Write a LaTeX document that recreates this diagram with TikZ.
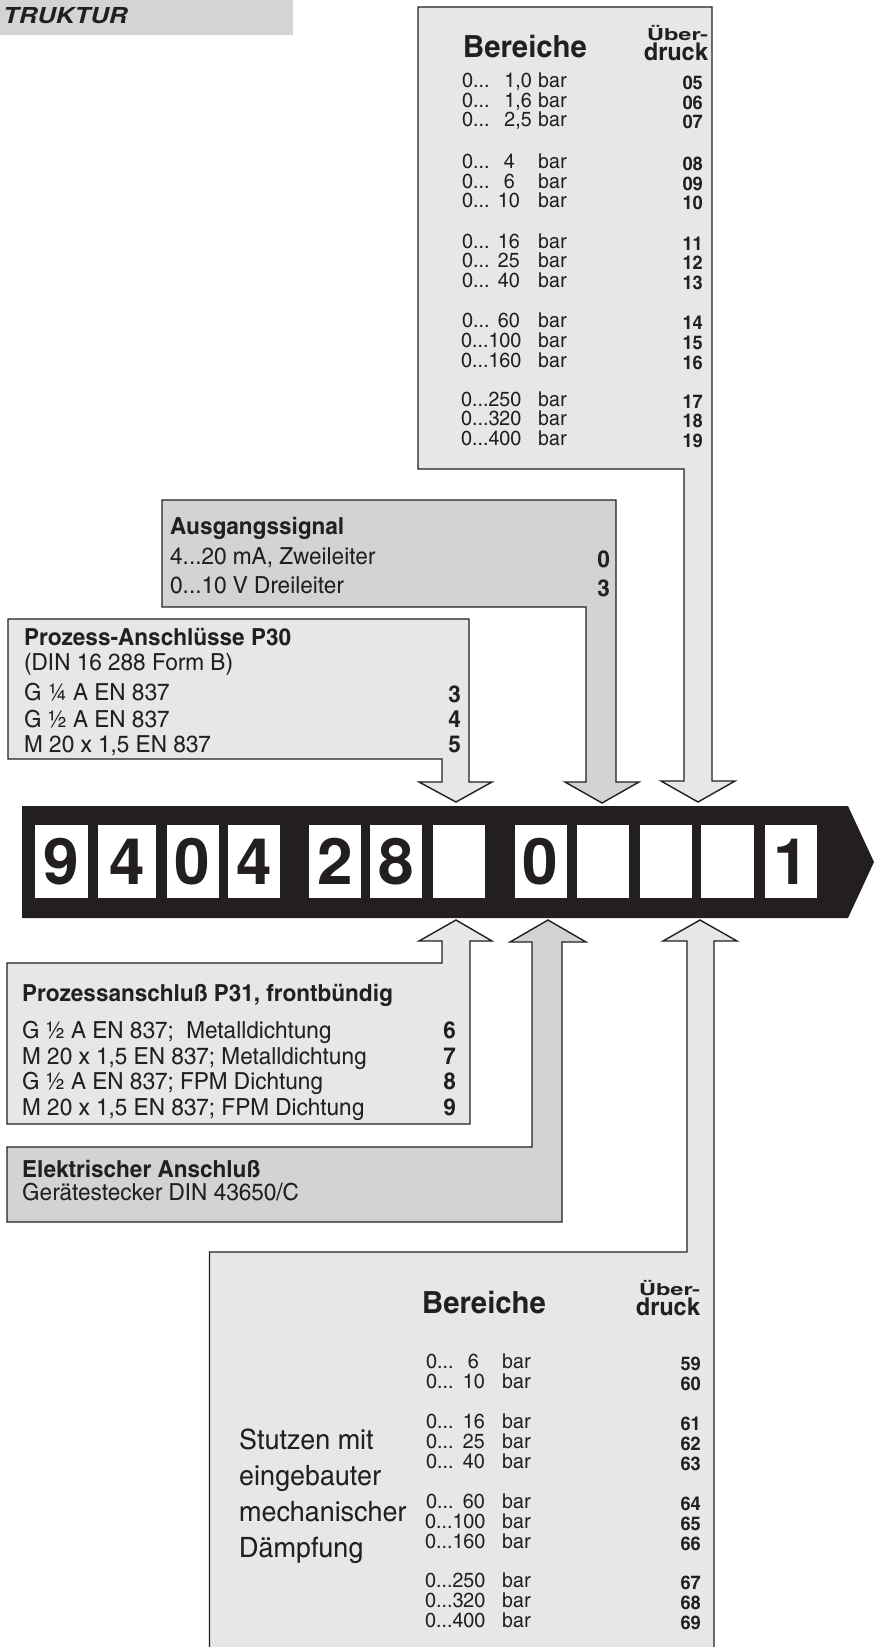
\documentclass[tikz,border=0pt]{standalone}
\usepackage{fontspec}
\setmainfont{TeX Gyre Heros}
\newfontfamily\cn{texgyreheroscn}[Extension=.otf, UprightFont=*-regular, BoldFont=*-bold, ItalicFont=*-italic, BoldItalicFont=*-bolditalic, FakeStretch=1.17]
\newfontfamily\hv{TeX Gyre Heros}
\newcommand\setfs[1]{\fontsize{#1}{#1}\selectfont}
\definecolor{ink}{HTML}{231F20}
\definecolor{lightg}{HTML}{E6E7E8}
\definecolor{darkg}{HTML}{D1D3D4}
\definecolor{barg}{HTML}{D3D4D6}
\tikzset{
  light/.style={fill=lightg, draw=ink, line width=1.4pt, line join=miter},
  dark/.style={fill=darkg, draw=ink, line width=1.4pt, line join=miter},
  txt/.style={inner sep=0pt, anchor=base west, text=ink, font=\cn\setfs{23.5}},
  txtb/.style={txt, font=\cn\bfseries\setfs{23.5}},
  code/.style={inner sep=0pt, anchor=base east, text=ink, font=\cn\bfseries\setfs{23.5}},
  rowt/.style={inner sep=0pt, anchor=base west, text=ink, font=\cn\setfs{20.5}},
  rown/.style={rowt, anchor=base east},
  rcode/.style={inner sep=0pt, anchor=base east, text=ink, font=\cn\bfseries\setfs{19}},
  headt/.style={inner sep=0pt, anchor=base west, text=ink, font=\cn\bfseries\setfs{30.5}},
  ueber/.style={inner sep=0pt, anchor=base east, text=ink, font=\cn\bfseries\setfs{24.5}},
  bigt/.style={inner sep=0pt, anchor=base west, text=ink, font=\cn\setfs{28}},
  digbox/.style={fill=white, inner sep=0pt, minimum height=73pt, text=ink, font=\hv\bfseries\setfs{64}}
}
\begin{document}
\begin{tikzpicture}[x=1pt,y=-1pt]
\clip (0,0) rectangle (874,1647);
\useasboundingbox (0,0) rectangle (874,1647);
% header
\fill[barg] (0,0) rectangle (293,35);
\node[inner sep=0pt, anchor=base west, text=ink, font=\hv\bfseries\itshape\setfs{22}] (title) at (3,23) {\scalebox{1.17}[1]{TRUKTUR}};
% box A (top Bereiche)
\draw[light] (418,7) -- (712,7) -- (712,781) -- (735,781) -- (698,802) -- (661,781) -- (684,781) -- (684,469) -- (418,469) -- cycle;
% box B (Ausgangssignal)
\draw[dark] (162,500) -- (616,500) -- (616,782) -- (639,782) -- (602,803) -- (565,782) -- (586,782) -- (586,607) -- (162,607) -- cycle;
% box C (P30)
\draw[light] (8,619) -- (469,619) -- (469,782) -- (492,782) -- (456,802) -- (419,782) -- (442,782) -- (442,759) -- (8,759) -- cycle;
% box P31
\draw[light] (7,963) -- (442,963) -- (442,941) -- (419,941) -- (456,920) -- (492,941) -- (470,941) -- (470,1124) -- (7,1124) -- cycle;
% Elektrischer
\draw[dark] (7,1147) -- (532,1147) -- (532,942) -- (510,942) -- (548,920) -- (586,942) -- (562,942) -- (562,1222) -- (7,1222) -- cycle;
% box D (lower Bereiche)
\draw[light] (209.5,1252) -- (687,1252) -- (687,941) -- (663,941) -- (700,920) -- (737,941) -- (714,941) -- (714,1665) -- (209.5,1665) -- cycle;
% band
\fill[ink] (22,806) -- (848,806) -- (874,862) -- (848,918) -- (22,918) -- cycle;
\node[digbox, minimum width=52.5pt] (d1) at (61.25,861.5) {9};
\node[digbox, minimum width=58pt] (d2) at (127,861.5) {4};
\node[digbox, minimum width=51.5pt] (d3) at (192.75,861.5) {0};
\node[digbox, minimum width=52pt] (d4) at (254,861.5) {4};
\node[digbox, minimum width=52pt] (d5) at (335,861.5) {2};
\node[digbox, minimum width=52pt] (d6) at (396,861.5) {8};
\node[digbox, minimum width=52.5pt] (d7) at (458.75,861.5) {};
\node[digbox, minimum width=52.5pt] (d8) at (540.75,861.5) {0};
\node[digbox, minimum width=52pt] (d9) at (603,861.5) {};
\node[digbox, minimum width=52pt] (d10) at (666,861.5) {};
\node[digbox, minimum width=53pt] (d11) at (727.5,861.5) {};
\node[digbox, minimum width=52pt] (d12) at (791,861.5) {1};
% texts box A
\node[headt] (abere) at (463,57) {Bereiche};
\node[ueber] (aueb) at (708,40.5) {\scalebox{1}[0.68]{Über-}};
\node[ueber] (adru) at (708,60.5) {druck};
\foreach \y/\n/\nx/\c [count=\i] in {87/{1,0}/532/05, 107/{1,6}/532/06, 126/{2,5}/532/07,
  168/4/515/08, 188/6/515/09, 207/10/520/10,
  248/16/520/11, 267/25/520/12, 287/40/520/13,
  327/60/520/14} {
  \node[rowt] (az\i) at (462,\y) {0...};
  \node[rown] (an\i) at (\nx,\y) {\n};
  \node[rowt] (ab\i) at (538,\y) {bar};
  \node[rcode] (ac\i) at (703,{\y+2}) {\c};
}
\foreach \y/\n/\c [count=\i] in {347/100/15, 367/160/16,
  406/250/17, 425/320/18, 445/400/19} {
  \node[rowt] (ay\i) at (461,\y) {0...\n};
  \node[rowt] (ax\i) at (538,\y) {bar};
  \node[rcode] (aw\i) at (703,{\y+2}) {\c};
}
% texts box B
\node[txtb] (bh) at (170,534) {Ausgangssignal};
\node[txt] (b1) at (170,564) {4...20 mA, Zweileiter};
\node[txt] (b2) at (170,593) {0...10 V Dreileiter};
\node[code] (bc1) at (610,567) {0};
\node[code] (bc2) at (610,596) {3};
% texts box C
\node[txtb] (ch) at (24,645) {Prozess-Anschlüsse P30};
\node[txt] (c0) at (24,670) {(DIN 16 288 Form B)};
\node[txt] (c1) at (24,700) {G ¼ A EN 837};
\node[txt] (c2) at (24,727) {G ½ A EN 837};
\node[txt] (c3) at (24,752) {M 20 x 1,5 EN 837};
\node[code] (cc1) at (461,702) {3};
\node[code] (cc2) at (461,727) {4};
\node[code] (cc3) at (461,752) {5};
% texts P31
\node[txtb] (ph) at (22,1001) {Prozessanschluß P31, frontbündig};
\node[txt] (p1) at (22,1038) {G ½ A EN 837;\ \ Metalldichtung};
\node[txt] (p2) at (22,1064) {M 20 x 1,5 EN 837; Metalldichtung};
\node[txt] (p3) at (22,1089) {G ½ A EN 837; FPM Dichtung};
\node[txt] (p4) at (22,1115) {M 20 x 1,5 EN 837; FPM Dichtung};
\node[code] (pc1) at (456,1038) {6};
\node[code] (pc2) at (456,1064) {7};
\node[code] (pc3) at (456,1089) {8};
\node[code] (pc4) at (456,1115) {9};
% Elektrischer
\node[txtb] (eh) at (22,1177) {Elektrischer Anschluß};
\node[txt] (e1) at (22,1200) {Gerätestecker DIN 43650/C};
% box D
\node[headt] (dbere) at (422,1313) {Bereiche};
\node[ueber] (dueb) at (700,1295.5) {\scalebox{1}[0.68]{Über-}};
\node[ueber] (ddru) at (700,1315.5) {druck};
\node[bigt] (s1) at (239,1449) {Stutzen mit};
\node[bigt] (s2) at (239,1485) {eingebauter};
\node[bigt] (s3) at (239,1521) {mechanischer};
\node[bigt] (s4) at (239,1557) {Dämpfung};
\foreach \y/\n/\nx/\c [count=\i] in {1368/6/479/59, 1388/10/485/60,
  1428/16/485/61, 1448/25/485/62, 1468/40/485/63,
  1508/60/485/64} {
  \node[rowt] (dz\i) at (426,\y) {0...};
  \node[rown] (dn\i) at (\nx,\y) {\n};
  \node[rowt] (db\i) at (502,\y) {bar};
  \node[rcode] (dc\i) at (701,{\y+2}) {\c};
}
\foreach \y/\n/\c [count=\i] in {1528/100/65, 1548/160/66,
  1587/250/67, 1607/320/68, 1627/400/69} {
  \node[rowt] (dy\i) at (425,\y) {0...\n};
  \node[rowt] (dx\i) at (502,\y) {bar};
  \node[rcode] (dw\i) at (701,{\y+2}) {\c};
}
\end{tikzpicture}
\end{document}
